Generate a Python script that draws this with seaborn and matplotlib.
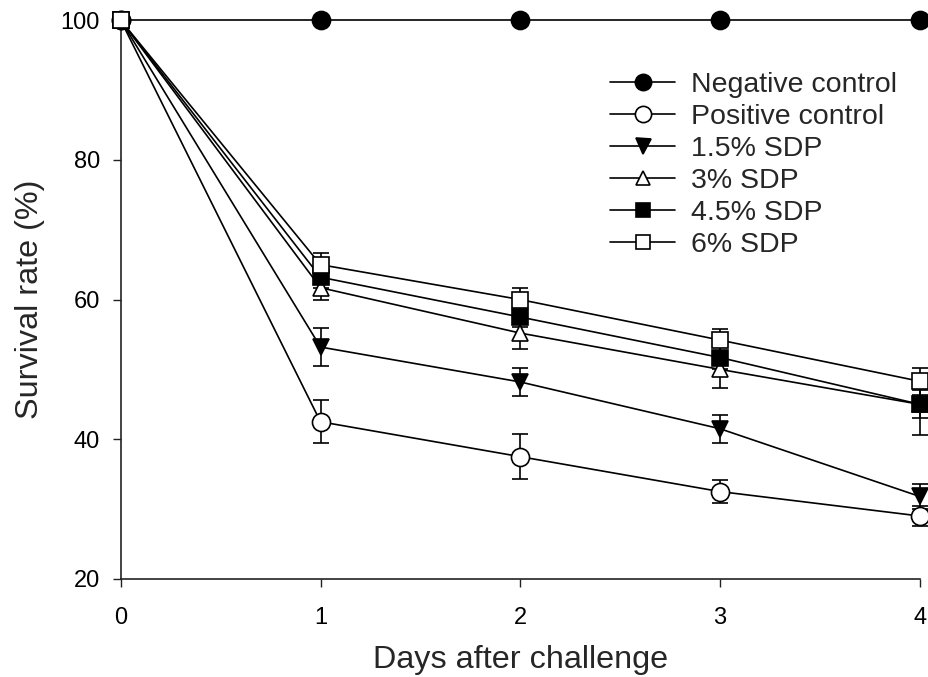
import numpy as np
import pandas as pd
import matplotlib
matplotlib.use("Agg")
import matplotlib.pyplot as plt
import seaborn as sns

days = [0, 1, 2, 3, 4]
series_names = ["Negative control", "Positive control", "1.5% SDP",
                "3% SDP", "4.5% SDP", "6% SDP"]

negative = [100, 100, 100, 100, 100]
positive = [100, 42.5, 37.5, 32.5, 29.0]
sdp_1_5 = [100, 53.2, 48.2, 41.5, 31.8]
sdp_3 = [100, 61.7, 55.2, 50.0, 45.0]
sdp_4_5 = [100, 63.2, 57.5, 51.7, 45.0]
sdp_6 = [100, 65.0, 60.0, 54.2, 48.3]

err_negative = [0, 0, 0, 0, 0]
err_positive = [0, 3.1, 3.2, 1.6, 1.4]
err_1_5 = [0, 2.7, 2.0, 2.0, 1.8]
err_3 = [0, 1.7, 2.3, 2.7, 4.4]
err_4_5 = [0, 1.5, 1.5, 1.7, 2.0]
err_6 = [0, 1.7, 1.6, 1.6, 1.9]

values = [negative, positive, sdp_1_5, sdp_3, sdp_4_5, sdp_6]
errors = [err_negative, err_positive, err_1_5, err_3, err_4_5, err_6]
markers = ["o", "o", "v", "^", "s", "s"]
faces = ["black", "white", "black", "white", "black", "white"]
sizes = [13, 13, 12, 11, 11, 11]

sns.set_style("ticks")
plt.rcParams["font.family"] = ["Liberation Sans", "DejaVu Sans"]

fig = plt.figure(figsize=(9.29, 6.77), dpi=100)
ax = fig.add_axes([0.130, 0.145, 0.860, 0.825])

rows = []
for name, vals in zip(series_names, values):
    for d, v in zip(days, vals):
        rows.append({"day": d, "survival": v, "group": name})
df = pd.DataFrame(rows)

for i, (name, vals, errs) in enumerate(zip(series_names, values, errors)):
    ax.errorbar(days, vals, yerr=errs, fmt="none", ecolor="black",
                elinewidth=1.2, capsize=6, capthick=1.2, zorder=2,
                clip_on=False)
    sns.lineplot(data=df[df["group"] == name], x="day", y="survival",
                 ax=ax, color="black", linewidth=1.2, marker=markers[i],
                 markersize=sizes[i], markerfacecolor=faces[i],
                 markeredgecolor="black", markeredgewidth=1.2,
                 label=name, zorder=3 + i, clip_on=False, errorbar=None)

ax.set_xlim(0, 4)
ax.set_ylim(20, 100)
ax.set_xticks(days)
ax.set_yticks([20, 40, 60, 80, 100])
ax.tick_params(axis="both", labelsize=17, direction="out", length=6,
               width=1.0, colors="#222222", labelcolor="black")
ax.tick_params(axis="y", pad=9)
ax.tick_params(axis="x", pad=14)
ax.set_xlabel("Days after challenge", fontsize=23.3, labelpad=11.5)
ax.set_ylabel("Survival rate (%)", fontsize=23.3, labelpad=11)
sns.despine(ax=ax, top=True, right=True)
for s in ["left", "bottom"]:
    ax.spines[s].set_linewidth(1.2)
    ax.spines[s].set_color("#222222")

ax.legend(loc="upper left", bbox_to_anchor=(610 / 929, 1 - 72 / 677),
          bbox_transform=fig.transFigure, frameon=False,
          fontsize=20.5, handlelength=2.3, labelspacing=0.21,
          handletextpad=0.56, markerscale=0.9, borderpad=0,
          borderaxespad=0)

fig.savefig("out.png", dpi=100)
